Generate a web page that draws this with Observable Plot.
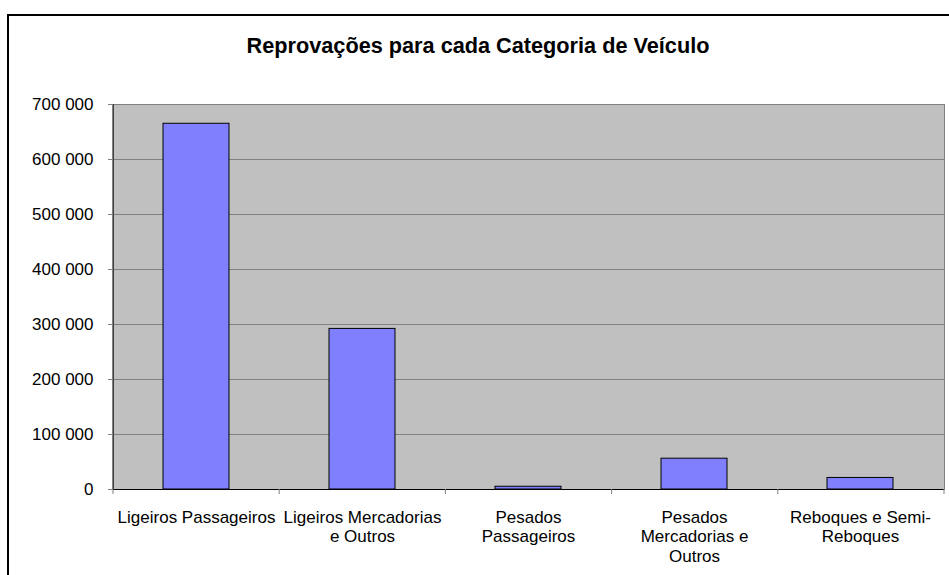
<!DOCTYPE html>
<html>
<head>
<meta charset="utf-8">
<script src="https://cdn.jsdelivr.net/npm/d3@7"></script>
<script src="https://cdn.jsdelivr.net/npm/@observablehq/plot@0.6"></script>
<style>
  body { margin: 0; background: #fff; overflow: hidden; }
  #wrap { position: relative; width: 949px; height: 575px; overflow: hidden; background: #fff;
          font-family: "Liberation Sans", Arial, sans-serif; }
  #title { height: 70px; box-sizing: border-box; padding-top: 34px; padding-left: 7px; text-align: center;
           font-weight: bold; font-size: 21.7px; line-height: 24px; color: #000; }
  #border { position: absolute; left: 7px; top: 14px; width: 2000px; height: 2000px;
            border-left: 2px solid #000; border-top: 2px solid #000; pointer-events: none; }
</style>
</head>
<body>
<div id="wrap">
  <div id="title">Reprovações para cada Categoria de Veículo</div>
  <div id="chart"></div>
  <div id="border"></div>
</div>
<script>
const categories = ["LP", "LM", "PP", "PM", "RS"];
const categoryLabels = [
  "Ligeiros Passageiros",
  "Ligeiros Mercadorias\ne Outros",
  "Pesados\nPassageiros",
  "Pesados\nMercadorias e\nOutros",
  "Reboques e Semi-\nReboques"
];
const values = [665000, 292000, 5000, 56000, 21000];
const yTicks = [0, 100000, 200000, 300000, 400000, 500000, 600000, 700000];
const yTickLabels = ["0", "100 000", "200 000", "300 000", "400 000", "500 000", "600 000", "700 000"];

const data = categories.map((c, i) => ({cat: c, value: values[i]}));

function axisDecor(index, scales, channels, dims) {
  const {width, height, marginLeft, marginRight, marginTop, marginBottom} = dims;
  const g = d3.create("svg:g");
  const y0 = height - marginBottom;
  const step = (width - marginLeft - marginRight) / categories.length;
  for (let i = 0; i <= categories.length; i++) {
    const xx = marginLeft + i * step;
    g.append("line").attr("x1", xx).attr("x2", xx).attr("y1", y0).attr("y2", y0 + 5)
      .attr("stroke", "#808080");
  }
  g.append("line").attr("x1", marginLeft).attr("x2", marginLeft)
    .attr("y1", marginTop).attr("y2", y0).attr("stroke", "black");
  return g.node();
}

const chart = Plot.plot({
  width: 949,
  height: 505,
  marginTop: 34,
  marginBottom: 86,
  marginLeft: 113,
  marginRight: 5,
  style: {fontFamily: "Liberation Sans, Arial, sans-serif", background: "transparent", color: "black"},
  x: {domain: categories, paddingInner: 0.6, paddingOuter: 0.3, label: null},
  y: {domain: [0, 700000], label: null},
  marks: [
    Plot.frame({fill: "#c0c0c0", stroke: "#808080"}),
    Plot.ruleY(yTicks, {stroke: "#808080"}),
    Plot.barY(data, {x: "cat", y: "value", fill: "#8080ff", stroke: "black", strokeWidth: 1}),
    Plot.ruleY([0], {stroke: "black"}),
    axisDecor,
    Plot.axisY({ticks: yTicks, tickFormat: d => yTickLabels[yTicks.indexOf(d)], tickSize: 5, tickPadding: 15,
                fontSize: 17, color: "black", stroke: "#808080"}),
    Plot.axisX({tickSize: 0, tickPadding: 20, fontSize: 17, lineHeight: 1.13, color: "black",
                tickFormat: d => categoryLabels[categories.indexOf(d)]})
  ]
});
document.getElementById("chart").appendChild(chart);
</script>
</body>
</html>
